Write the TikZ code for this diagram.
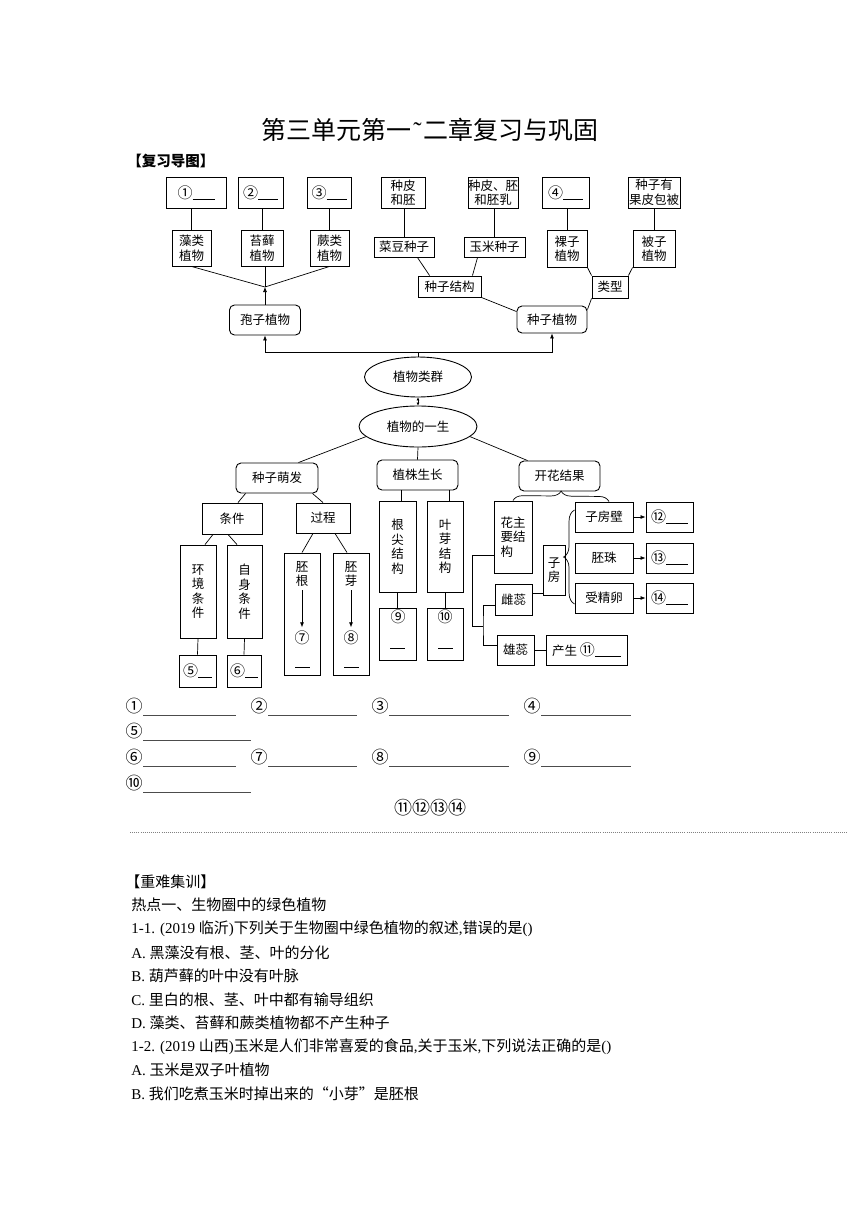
\documentclass[tikz,border=0pt]{standalone}
\usepackage{fontspec}
\setmainfont{Noto Sans CJK SC}
\newfontfamily\lat{Liberation Serif}
\usetikzlibrary{shapes.geometric,arrows.meta,decorations.pathreplacing}

\newcommand{\dg}{\fontsize{12.5}{14.5}\selectfont}
\newcommand{\cn}[1]{{\fontsize{15}{14}\selectfont #1}}
\newcommand{\blank}[1]{\rule[-1.5pt]{#1}{0.7pt}}

\begin{document}
\begin{tikzpicture}[x=1pt,y=-1pt,line width=0.7pt,
		box/.style={draw,line width=0.9pt,inner sep=0pt,align=center,font=\dg},
		rbox/.style={box,rounded corners=5pt},
		oval/.style={draw,ellipse,line width=0.9pt,inner sep=0pt,font=\dg},
		arr/.style={-{Latex[length=5pt,width=4pt]}},
		dbl/.style={{Latex[length=3pt,width=3pt]}-{Latex[length=3pt,width=3pt]}},
		txt/.style={anchor=west,inner sep=0pt,font=\fontsize{15}{18}\selectfont}]
	\fill[white] (0,0) rectangle (860,1216);
	\useasboundingbox (0,0) rectangle (860,1216);

	% title
	\node[font=\fontsize{25}{25}\selectfont] (title) at (430,130)
		{第三单元第一\hspace{2pt}{\lat\char"02DC}\hspace{2pt}二章复习与巩固};
	\node[txt,font=\fontsize{14.5}{16}\selectfont\bfseries] (head) at (127,161) {【复习导图】};

	% top row
	\node[box,minimum width=60pt,minimum height=31pt] (b1) at (196,192.5) {\cn{①}\blank{22pt}};
	\node[box,minimum width=45pt,minimum height=31pt] (b2) at (260.5,192.5) {\cn{②}\blank{20pt}};
	\node[box,minimum width=44pt,minimum height=31pt] (b3) at (329,192.5) {\cn{③}\blank{20pt}};
	\node[box,minimum width=44pt,minimum height=31pt] (pipei) at (403,192.5) {种皮\\和胚};
	\node[box,minimum width=50pt,minimum height=31pt] (pipeiru) at (493,192.5) {种皮、胚\\和胚乳};
	\node[box,minimum width=47pt,minimum height=31pt] (b4) at (565.5,192.5) {\cn{④}\blank{20pt}};
	\node[box,minimum width=52pt,minimum height=31pt] (guopi) at (654,192.5) {种子有\\果皮包被};

	% groups
	\node[box,minimum width=39pt,minimum height=36pt] (zaolei) at (191.5,248) {藻类\\植物};
	\node[box,minimum width=42pt,minimum height=36pt] (taixian) at (262,248) {苔藓\\植物};
	\node[box,minimum width=39pt,minimum height=36pt] (juelei) at (329.5,248) {蕨类\\植物};
	\node[box,minimum width=60pt,minimum height=20pt] (caidou) at (404,247) {菜豆种子};
	\node[box,minimum width=61pt,minimum height=20pt] (yumi) at (494.5,247) {玉米种子};
	\node[box,minimum width=40pt,minimum height=37pt] (luozi) at (567,248.5) {裸子\\植物};
	\node[box,minimum width=42pt,minimum height=37pt] (beizi) at (654,248.5) {被子\\植物};

	\node[box,minimum width=63pt,minimum height=21pt] (jiegou) at (449.5,286.5) {种子结构};
	\node[box,minimum width=36pt,minimum height=22pt] (leixing) at (610,287) {类型};
	\node[rbox,minimum width=71pt,minimum height=30pt] (baozi) at (265,320) {孢子植物};
	\node[rbox,minimum width=70pt,minimum height=27pt] (zhongzi) at (552,319.5) {种子植物};
	\coordinate (meet) at (265,287);
	\coordinate (hub) at (418,352);

	\node[oval,minimum width=107pt,minimum height=40pt] (qunlei) at (418,377) {植物类群};
	\node[oval,minimum width=118pt,minimum height=41pt] (yisheng) at (418,426.5) {植物的一生};

	\node[rbox,minimum width=82pt,minimum height=30pt] (mengfa) at (277,478) {种子萌发};
	\node[rbox,minimum width=81pt,minimum height=30pt] (shengzhang) at (417.5,475) {植株生长};
	\node[rbox,minimum width=81pt,minimum height=30pt] (jieguo) at (559.5,476) {开花结果};

	% seed germination
	\node[box,minimum width=60pt,minimum height=31pt] (tiaojian) at (232,518.5) {条件};
	\node[box,minimum width=54pt,minimum height=30pt] (guocheng) at (323,518) {过程};
	\node[box,minimum width=36pt,minimum height=93pt] (huanjing) at (198,591.5) {环\\境\\条\\件};
	\node[box,minimum width=35pt,minimum height=93pt] (zishen) at (244.5,591.5) {自\\身\\条\\件};
	\node[box,minimum width=37pt,minimum height=32pt] (b5) at (197.5,671) {\cn{⑤}\blank{14pt}};
	\node[box,minimum width=34pt,minimum height=32pt] (b6) at (244,671) {\cn{⑥}\blank{13pt}};
	\node[box,minimum width=36pt,minimum height=122pt] (peigen) at (302,614) {};
	\node[box,minimum width=36pt,minimum height=122pt] (peiya) at (351,614) {};
	\node[font=\dg,align=center] (pg-t) at (302,574) {胚\\根};
	\node[font=\dg] (pg-n) at (302,638) {\cn{⑦}};
	\node[font=\dg,align=center] (py-t) at (351,574) {胚\\芽};
	\node[font=\dg] (py-n) at (351,638) {\cn{⑧}};
	\draw[arr] (pg-t) -- (pg-n);
	\draw[arr] (py-t) -- (py-n);
	\draw (295,667) -- (310,667);
	\draw (344,667) -- (359,667);

	% plant growth
	\node[box,minimum width=37pt,minimum height=91pt] (genjian) at (397.5,546.5) {根\\尖\\结\\构};
	\node[box,minimum width=36pt,minimum height=91pt] (yeya) at (445,546.5) {叶\\芽\\结\\构};
	\node[box,minimum width=37pt,minimum height=52pt] (b9) at (397.5,634) {};
	\node[box,minimum width=36pt,minimum height=52pt] (b10) at (445,634) {};
	\node[font=\dg] (n9) at (398,617) {\cn{⑨}};
	\node[font=\dg] (n10) at (445,617) {\cn{⑩}};
	\draw (390,648) -- (405,648);
	\draw (438,648) -- (453,648);

	% flowers and fruit
	\node[box,align=left,minimum width=38pt,minimum height=72pt] (huazhu) at (513,537) {花主\\要结\\构};
	\node[box,minimum width=22pt,minimum height=50pt] (zifang) at (554,570) {子\\房};
	\node[box,minimum width=58pt,minimum height=30pt] (zifangbi) at (604,517) {子房壁};
	\node[box,minimum width=58pt,minimum height=30pt] (peizhu) at (604,558) {胚珠};
	\node[box,minimum width=58pt,minimum height=30pt] (shoujing) at (604,598) {受精卵};
	\node[box,minimum width=47pt,minimum height=30pt] (b12) at (669.5,517) {\cn{⑫}\blank{22pt}};
	\node[box,minimum width=47pt,minimum height=30pt] (b13) at (669.5,558) {\cn{⑬}\blank{22pt}};
	\node[box,minimum width=47pt,minimum height=30pt] (b14) at (669.5,598) {\cn{⑭}\blank{22pt}};
	\node[box,minimum width=37pt,minimum height=31pt] (cirui) at (513.5,599.5) {雌蕊};
	\node[box,minimum width=37pt,minimum height=30pt] (xiongrui) at (515.5,650) {雄蕊};
	\node[box,minimum width=81pt,minimum height=30pt] (chansheng) at (586.5,650) {产生 \cn{⑪}\blank{26pt}};
	\coordinate (fork) at (483,626);

	% connectors, upper part
	\draw (zaolei.north) -- (zaolei.north |- b1.south);
	\draw (taixian.north) -- (taixian.north |- b2.south);
	\draw (juelei.north) -- (juelei.north |- b3.south);
	\draw (caidou.north) -- (caidou.north |- pipei.south);
	\draw (yumi.north) -- (yumi.north |- pipeiru.south);
	\draw (luozi.north) -- (luozi.north |- b4.south);
	\draw (beizi.north) -- (beizi.north |- guopi.south);
	\draw (zaolei.south) -- (meet) -- (juelei.south);
	\draw (taixian.south -| meet) -- (meet);
	\draw[arr] (baozi.north) -- (meet);
	\draw ([xshift=-17pt]caidou.south east) -- ([xshift=12pt]jiegou.north west);
	\draw ([xshift=14pt]yumi.south west) -- ([xshift=-9pt]jiegou.north east);
	\draw (luozi.south east) -- (leixing.north west);
	\draw (beizi.south west) -- (leixing.north east);
	\draw (jiegou.south east) -- ([yshift=-6pt]zhongzi.north west);
	\draw (leixing.south west) -- ([yshift=-4pt]zhongzi.north east);
	\draw (qunlei.north) -- (hub);
	\draw[arr] (hub) -| (baozi.south);
	\draw[arr] (hub) -| (zhongzi.south);
	\draw[dbl] (qunlei.south) -- (yisheng.north);

	% connectors, lower part
	\draw (yisheng.191) -- ([xshift=-20pt]mengfa.north east);
	\draw (yisheng.south) -- (shengzhang.north);
	\draw (yisheng.-11) -- ([xshift=9pt]jieguo.north west);
	\draw ([xshift=10pt]mengfa.south west) -- ([xshift=6pt]tiaojian.north);
	\draw ([xshift=-6pt]mengfa.south east) -- (guocheng.north);
	\draw ([xshift=-19pt]tiaojian.south) -- ([xshift=7pt]huanjing.north);
	\draw ([xshift=-4pt]tiaojian.south) -- ([xshift=-7.5pt]zishen.north);
	\draw ([xshift=-10pt]guocheng.south) -- (peigen.north);
	\draw ([xshift=12pt]guocheng.south) -- ([xshift=-4pt]peiya.north);
	\draw (huanjing.south) -- (b5.north);
	\draw (zishen.south) -- (b6.north);
	\draw ([xshift=4pt]genjian.north) -- ([xshift=4pt]genjian.north |- shengzhang.south);
	\draw ([xshift=4pt]yeya.north) -- ([xshift=4pt]yeya.north |- shengzhang.south);
	\draw (genjian.south) -- (b9.north);
	\draw (yeya.south) -- (b10.north);
	\draw[decorate,decoration={brace,amplitude=10pt}] (huazhu.north) -- ([xshift=5pt]zifangbi.north);
	\draw[decorate,decoration={brace,amplitude=11pt}] ([yshift=-6pt]shoujing.west) -- ([yshift=7pt]zifangbi.west);
	\draw[arr] (zifangbi) -- (b12);
	\draw[arr] (peizhu) -- (b13);
	\draw[arr] (shoujing) -- (b14);
	\draw ([yshift=6pt]cirui.east) -- ([yshift=6pt]cirui.east -| zifang.west);
	\draw ([yshift=-18pt]huazhu.west) -| ([xshift=-11pt]fork) -- (fork);
	\draw ([yshift=-5.5pt]cirui.west) -| (fork) |- ([yshift=5pt]xiongrui.west);
	\draw (xiongrui) -- (chansheng);

	% answer lines
	\foreach \lab/\x/\y/\e in {①/134/706/236,②/259/706/357,③/380/706/509,④/532/706/631,
			⑤/134/731/251,⑥/134/757/236,⑦/259/757/357,⑧/380/757/509,⑨/532/757/631,⑩/134/783/251} {
		\node[font=\fontsize{17}{17}\selectfont] at (\x,\y) {\lab};
		\draw[black!70,line width=0.8pt] (\x+9,\y+9) -- (\e,\y+9);
	}
	\node[font=\fontsize{18}{18}\selectfont] (rest) at (430,808) {⑪⑫⑬⑭};
	\draw[black!50,line width=0.7pt,dash pattern=on 0.8pt off 1.3pt] (130,832) -- (848,832);

	% exercises
	\node[txt] (q0) at (125,882) {【重难集训】};
	\node[txt] (q1) at (131,905) {热点一、生物圈中的绿色植物};
	\node[txt] (q2) at (131,929) {{\lat 1-1. (2019 }临沂{\lat )}下列关于生物圈中绿色植物的叙述{\lat ,}错误的是{\lat ()}};
	\node[txt] (q3) at (131,953) {{\lat A. }黑藻没有根、茎、叶的分化};
	\node[txt] (q4) at (131,976) {{\lat B. }葫芦藓的叶中没有叶脉};
	\node[txt] (q5) at (131,1000) {{\lat C. }里白的根、茎、叶中都有输导组织};
	\node[txt] (q6) at (131,1023) {{\lat D. }藻类、苔藓和蕨类植物都不产生种子};
	\node[txt] (q7) at (131,1047) {{\lat 1-2. (2019 }山西{\lat )}玉米是人们非常喜爱的食品{\lat ,}关于玉米{\lat ,}下列说法正确的是{\lat ()}};
	\node[txt] (q8) at (131,1070) {{\lat A. }玉米是双子叶植物};
	\node[txt] (q9) at (131,1094) {{\lat B. }我们吃煮玉米时掉出来的“小芽”是胚根};
\end{tikzpicture}
\end{document}
